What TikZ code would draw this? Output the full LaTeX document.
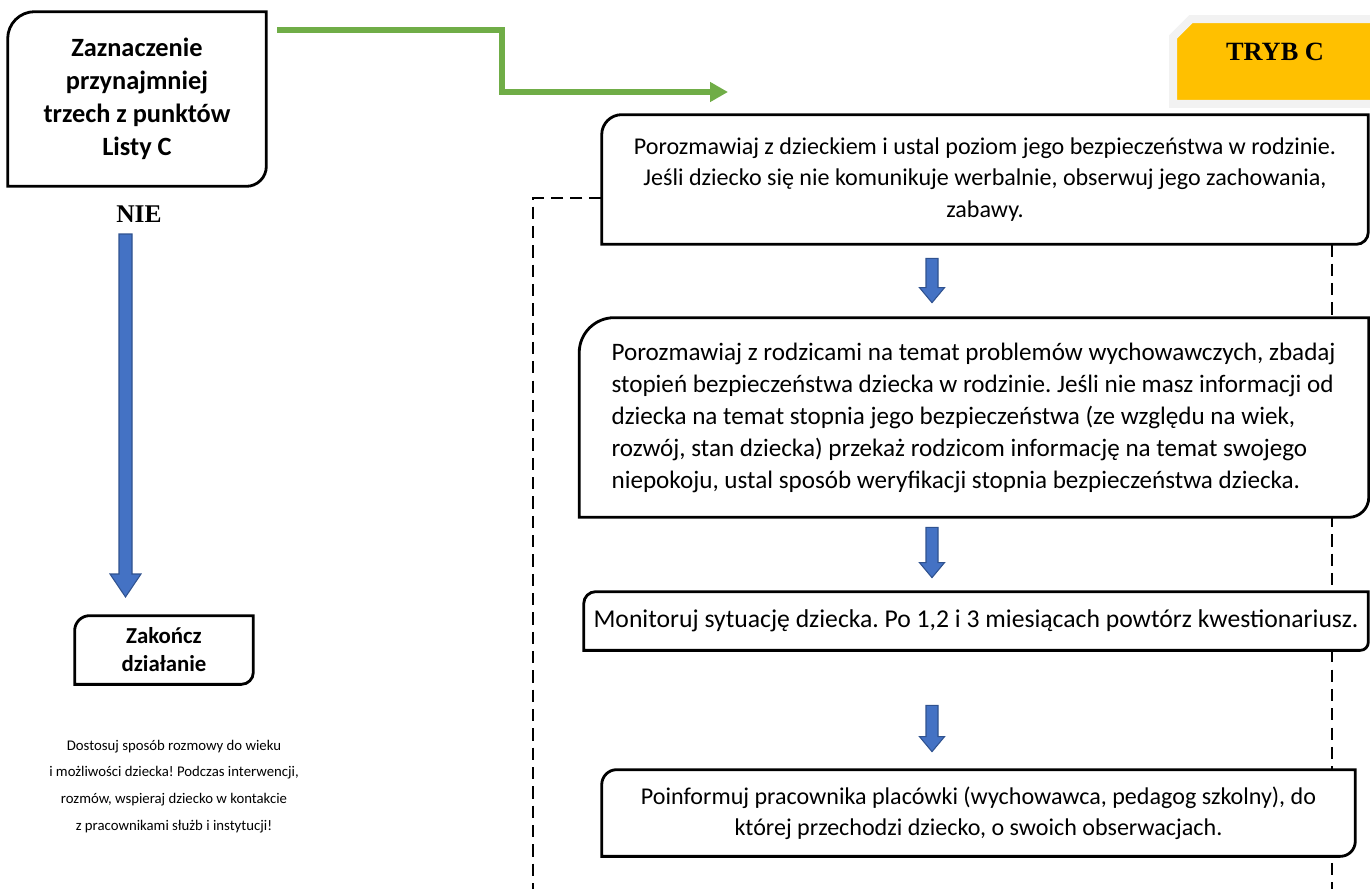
\documentclass[tikz,border=0pt]{standalone}
\usepackage{fontspec}
\setmainfont{Carlito}
\newfontfamily\headfont{Liberation Serif}
\frenchspacing
\usetikzlibrary{positioning, calc, arrows.meta, shapes.misc}
\definecolor{arrowblue}{HTML}{4472C4}
\definecolor{arrowedge}{HTML}{2F528F}
\definecolor{flowgreen}{HTML}{70AD47}
\definecolor{trybyellow}{HTML}{FFC000}
\definecolor{trybgray}{HTML}{F2F2F2}
\tikzset{
	box/.style={fill=white, inner sep=0pt, align=center, font=\fontsize{13.7}{17.8}\selectfont}, % white step boxes, outline drawn by \cornerbox
	boldbox/.style 2 args={box, font=\bfseries\fontsize{#1}{#2}\selectfont},
	blk/.style n args={3}{fill=arrowblue, draw=arrowedge, line width=0.6pt, % block arrow: shaft half width, head half width, head length
		to path={let \p1=(\tikztostart), \p2=(\tikztotarget) in
			(\x1-#1,\y1) -- (\x1-#1,\y2+#3) -- (\x1-#2,\y2+#3) -- (\x1,\y2)
			-- (\x1+#2,\y2+#3) -- (\x1+#1,\y2+#3) -- (\x1+#1,\y1) -- cycle}},
	flowarrow/.style={draw=flowgreen, line width=3.4pt, -{Triangle[length=0.36cm, width=0.38cm]}},
	dashline/.style={line width=1.1pt, dash pattern=on 7pt off 4pt},
}
% outline with rounded top left and bottom right corners
\newcommand{\cornerbox}[3]{%
	\draw[line width=1.6pt] (#1.south west) -- ([yshift=-#2]#1.north west)
		arc[start angle=180, end angle=90, radius=#2] -- (#1.north east)
		-- ([yshift=#3]#1.south east) arc[start angle=0, end angle=-90, radius=#3] -- cycle;}

\begin{document}
\begin{tikzpicture}[x=0.02cm, y=-0.02cm]
	\clip (0,0) rectangle (1370,889);
	% left column
	\node[boldbox={15}{18.7}, minimum width=5.16cm, minimum height=3.48cm] (lista) at (137,99) {Zaznaczenie\\przynajmniej\\trzech z punktów\\Listy C};
	\cornerbox{lista}{0.54cm}{0.4cm}
	\node[font=\headfont\bfseries\fontsize{14.5}{16}\selectfont] (nie) at (139,214) {NIE};
	\node[boldbox={13}{15.9}, minimum width=3.56cm, minimum height=1.36cm] (koniec) at (164,650) {Zakończ\\działanie};
	\cornerbox{koniec}{0.3cm}{0.24cm}
	\coordinate (nieA) at (125.5,234);
	\coordinate (nieB) at (125.5,597);
	\draw[blk={0.13cm}{0.31cm}{0.46cm}] (nieA) to (nieB);
	\node[font=\fontsize{8.4}{15.3}\selectfont, align=center] (uwaga) at (174,786.5) {Dostosuj sposób rozmowy do wieku\\i możliwości dziecka! Podczas interwencji,\\rozmów, wspieraj dziecko w kontakcie\\z pracownikami służb i instytucji!};

	% TRYB C label
	\node[chamfered rectangle, chamfered rectangle corners=north west, chamfered rectangle sep=0.18cm,
		fill=trybyellow, draw=trybgray, line width=0.16cm, minimum width=4.4cm, minimum height=1.7cm,
		text height=8pt, text depth=9pt, font=\headfont\bfseries\fontsize{15}{18}\selectfont] (tryb) at (1283,61.5) {TRYB C\kern0.32cm};

	% green arrow to the right column
	\coordinate (gend) at (728,92);
	\draw[flowarrow] ([shift={(11,18)}]lista.north east) -| (502,92) -- (gend);

	% right column
	\node[box, minimum width=15.32cm, minimum height=2.58cm] (dziecko) at (985,179.5) {Porozmawiaj z dzieckiem i ustal poziom jego bezpieczeństwa w rodzinie.\\Jeśli dziecko się nie komunikuje werbalnie, obserwuj jego zachowania,\\zabawy.};
	\cornerbox{dziecko}{0.4cm}{0.24cm}
	\coordinate (dl) at (533,889);
	\coordinate (dr) at (1332,889);
	\draw[dashline] ([yshift=-0.37cm]dziecko.west) -| (dl);
	\draw[dashline] (dziecko.south -| dr) -- (dr);

	\node[box, font=\fontsize{14.3}{18.2}\selectfont, align=flush left, text width=14.5cm, inner xsep=0.64cm, minimum height=3.98cm] (rodzice) at (974,417.5) {Porozmawiaj z rodzicami na temat problemów wychowawczych, zbadaj\\stopień bezpieczeństwa dziecka w rodzinie. Jeśli nie masz informacji od\\dziecka na temat stopnia jego bezpieczeństwa (ze względu na wiek,\\rozwój, stan dziecka) przekaż rodzicom informację na temat swojego\\niepokoju, ustal sposób weryfikacji stopnia bezpieczeństwa dziecka.};
	\cornerbox{rodzice}{0.7cm}{0.4cm}
	\node[box, font=\fontsize{14.6}{17.8}\selectfont, minimum width=15.68cm, minimum height=1.16cm] (monitor) at (976,621) {Monitoruj sytuację dziecka. Po 1,2 i 3 miesiącach powtórz kwestionariusz.};
	\cornerbox{monitor}{0.24cm}{0.16cm}
	\node[box, minimum width=15.06cm, minimum height=1.72cm] (placowka) at (978.5,813) {Poinformuj pracownika placówki (wychowawca, pedagog szkolny), do\\której przechodzi dziecko, o swoich obserwacjach.};
	\cornerbox{placowka}{0.3cm}{0.3cm}

	% steps
	\coordinate (ax) at (932,0);
	\draw[blk={0.12cm}{0.25cm}{0.3cm}] ([yshift=-0.28cm]dziecko.south -| ax) to ([yshift=0.3cm]rodzice.north -| ax);
	\draw[blk={0.12cm}{0.25cm}{0.3cm}] ([yshift=-0.2cm]rodzice.south -| ax) to ([yshift=0.28cm]monitor.north -| ax);
	\draw[blk={0.12cm}{0.25cm}{0.3cm}] ([yshift=-1.1cm]monitor.south -| ax) to ([yshift=0.36cm]placowka.north -| ax);
\end{tikzpicture}
\end{document}
